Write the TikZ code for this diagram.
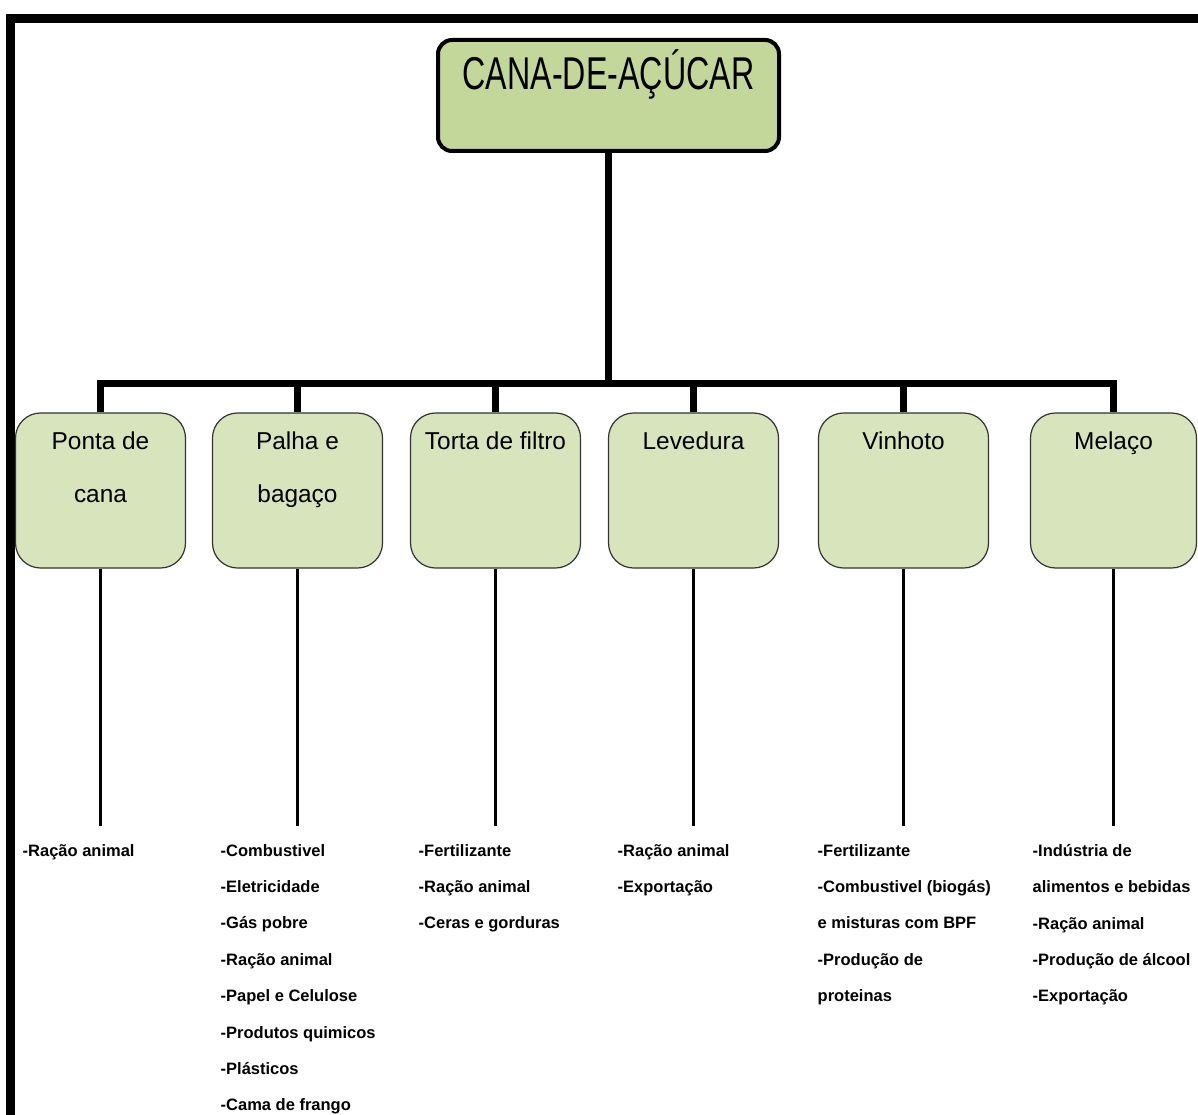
\documentclass[tikz,border=0pt]{standalone}
\usepackage{fontspec}
\setmainfont{Liberation Sans}
\newfontfamily\titlefont{Liberation Sans}[FakeStretch=0.70]
\definecolor{canagreen}{HTML}{C4D79B}
\definecolor{boxgreen}{HTML}{D8E4BC}
\tikzset{%
  canatree/.style = {
    grow=down,
    level 1/.style = {level distance=395pt, sibling distance=203pt,
      edge from parent/.style = {draw, line width=7pt},
      edge from parent path = {(\tikzparentnode.south) -- ++(0,230) -| (\tikzchildnode.north)}},
    level 2/.style = {level distance=353.5pt,
      edge from parent/.style = {draw, line width=3.5pt, shorten >=18pt},
      edge from parent path = {(\tikzparentnode.south) -- (\tikzparentnode.south |- \tikzchildnode.north)}}
  },
  rootbox/.style = {shape=rectangle, rounded corners=14pt, draw, line width=4pt,
    fill=canagreen, minimum width=341pt, inner xsep=0pt, inner ysep=0pt,
    text height=50pt, text depth=61pt,
    font=\titlefont\fontsize{46}{50}\selectfont},
  catbox/.style = {shape=rectangle, rounded corners=25pt, draw=black!80, line width=1.2pt,
    fill=boxgreen, minimum width=170pt, minimum height=155pt, inner sep=0pt},
  boxlabel/.style = {anchor=north, yshift=-19pt, inner sep=0pt, align=center,
    font=\fontsize{24.4}{53}\selectfont},
  lista/.style = {anchor=north west, align=left, inner sep=0pt,
    font=\fontsize{16.5}{36.4}\selectfont\bfseries}
}
\begin{document}
\begin{tikzpicture}[x=1pt, y=-1pt]
  \useasboundingbox (0,0) rectangle (1198,1115);
  % moldura
  \draw[line width=9pt, line join=miter] (10.5,1115) -- (10.5,18.5) -- (1198,18.5);

  \node[rootbox] (cana) at (608.5,95.5) {CANA-DE-AÇÚCAR}
    [canatree]
    child[xshift=-0.5pt] {
      node[catbox, label={[boxlabel, name=ponta-t]north:Ponta de\\cana}] (ponta) {}
        child { node[lista, xshift=-78pt] (ponta-l) {-Ração animal} }
    }
    child[xshift=-6.5pt] {
      node[catbox, label={[boxlabel, name=palha-t]north:Palha e\\bagaço}] (palha) {}
        child { node[lista, xshift=-77pt] (palha-l) {-Combustivel\\-Eletricidade\\-Gás pobre\\-Ração animal\\-Papel e Celulose\\-Produtos quimicos\\-Plásticos\\-Cama de frango} }
    }
    child[xshift=-11.5pt] {
      node[catbox, label={[boxlabel, name=torta-t]north:Torta de filtro}] (torta) {}
        child { node[lista, xshift=-77pt] (torta-l) {-Fertilizante\\-Ração animal\\-Ceras e gorduras} }
    }
    child[xshift=-16.5pt] {
      node[catbox, label={[boxlabel, name=levedura-t]north:Levedura}] (levedura) {}
        child { node[lista, xshift=-76pt] (levedura-l) {-Ração animal\\-Exportação} }
    }
    child[xshift=-9.5pt] {
      node[catbox, label={[boxlabel, name=vinhoto-t]north:Vinhoto}] (vinhoto) {}
        child { node[lista, xshift=-86pt] (vinhoto-l) {-Fertilizante\\-Combustivel (biogás)\\e misturas com BPF\\-Produção de\\proteinas} }
    }
    child[xshift=-2.5pt] {
      node[catbox, minimum width=166pt, label={[boxlabel, name=melaco-t]north:Melaço}] (melaco) {}
        child { node[lista, xshift=-81pt] (melaco-l) {-Indústria de\\alimentos e bebidas\\-Ração animal\\-Produção de álcool\\-Exportação} }
    };
\end{tikzpicture}
\end{document}
